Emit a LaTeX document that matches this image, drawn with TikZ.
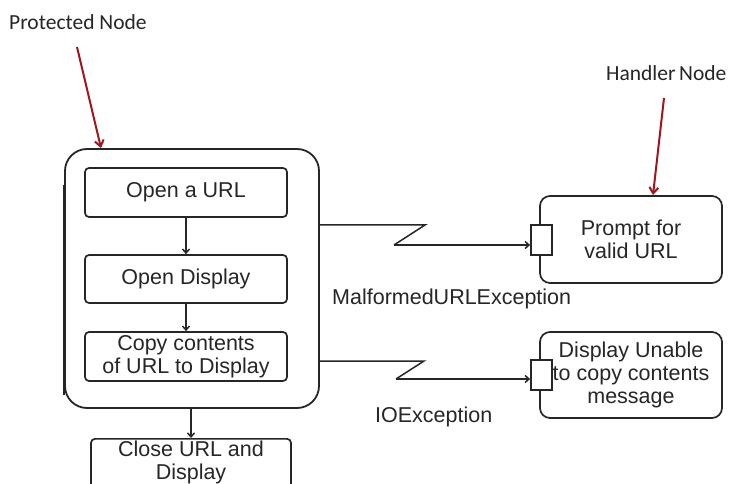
\documentclass[tikz,border=0pt]{standalone}
\usepackage{fontspec}
\setmainfont{Liberation Sans}
\newfontfamily\calfont{Carlito}
\usetikzlibrary{arrows.meta}
\definecolor{ink}{HTML}{262626}
\definecolor{redarrow}{HTML}{A0151E}
\tikzset{
  txt/.style={font=\fontsize{21.5}{23}\selectfont, text=ink},
  stepbox/.style={draw=ink, line width=1.7pt, rounded corners=4pt, align=center,
    minimum width=202pt, minimum height=49pt, inner sep=0pt, txt},
  handlerbox/.style={draw=ink, line width=1.7pt, rounded corners=10pt, align=center,
    minimum width=182pt, minimum height=87pt, inner sep=0pt, txt},
  portbox/.style={draw=ink, line width=1.7pt, fill=white, minimum width=21pt,
    minimum height=30pt, inner sep=0pt},
  outerbox/.style={draw=ink, line width=1.8pt, rounded corners=22pt,
    minimum width=254pt, minimum height=259pt, inner sep=0pt},
  conn/.style={draw=ink, line width=1.5pt},
  arr/.style={conn, -{Straight Barb[length=4pt,width=7pt]}},
  callout/.style={draw=redarrow, line width=2pt, -{Straight Barb[length=6pt,width=9pt]}},
  lbl/.style={txt, inner sep=0pt},
  calllbl/.style={text=ink, font=\calfont\fontsize{21.5}{24}\selectfont, inner sep=0pt},
}
\begin{document}
\begin{tikzpicture}[x=1pt,y=-1pt]
\useasboundingbox (0,0) rectangle (729,484);
\fill[white] (0,0) rectangle (729,484);

% protected node
\node[outerbox] (outer) at (192,278.5) {};
\draw[ink, line width=1.8pt] (64,185) -- (64,395);
\node[stepbox] (open) at (186,192.5) {Open a URL};
\node[stepbox, minimum height=48pt] (disp) at (186,279) {Open Display};
\node[stepbox] (copy) at (186,356.5) {Copy contents\\of URL to Display};
\node[stepbox, minimum width=200pt, minimum height=52pt, anchor=north] (close) at (191,438) {};
\node[lbl, align=center] (closetxt) at (191,462) {Close URL and\\Display};

\draw[arr] (open.south) -- (disp.north);
\draw[arr] (disp.south) -- (copy.north);
\draw[arr] (outer.south -| close.north) -- (close.north);

% handler nodes
\node[handlerbox] (h1) at (631,239.5) {Prompt for\\valid URL};
\node[portbox] (p1) at (541.5,240) {};
\node[handlerbox, minimum height=86pt] (h2) at (631,375) {Display Unable\\to copy contents\\message};
\node[portbox] (p2) at (541.5,375) {};

% exception connectors
\coordinate (e1a) at (425,225);
\coordinate (e1b) at (394,245);
\coordinate (e2a) at (424,361);
\coordinate (e2b) at (396,379);
\draw[conn] (outer.east |- e1a) -- (e1a) -- (e1b);
\draw[arr] (e1b) -- (e1b -| p1.west);
\draw[conn] (outer.east |- e2a) -- (e2a) -- (e2b);
\draw[arr] (e2b) -- (e2b -| p2.west);

\node[lbl, anchor=west] (mal) at (332,299) {MalformedURLException};
\node[lbl, anchor=west] (ioe) at (375,417) {IOException};

% callouts
\node[calllbl, anchor=west] (pn) at (9,22) {Protected Node};
\node[calllbl, anchor=west] (hn) at (606,73) {Handler\,Node};
\coordinate (pnstart) at (77,47);
\coordinate (pnend) at (101,148);
\coordinate (hnstart) at (664,98);
\coordinate (hnend) at (653,195);
\draw[callout] (pnstart) -- (pnend);
\draw[callout] (hnstart) -- (hnend);
\end{tikzpicture}
\end{document}
